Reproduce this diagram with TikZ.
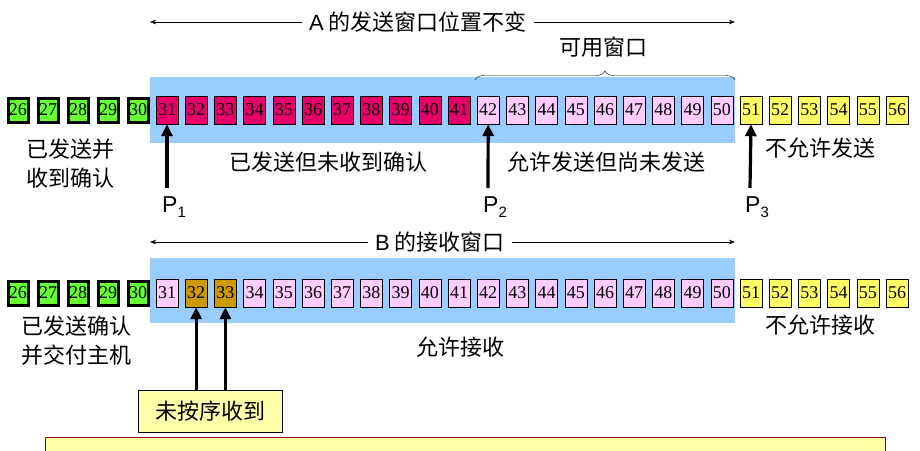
\documentclass[tikz,border=0pt]{standalone}
\usepackage{fontspec}
\setmainfont{Liberation Serif}
\newfontfamily\cjk{Noto Sans CJK SC}
\newfontfamily\lsans{Liberation Sans}
\usetikzlibrary{decorations.pathreplacing,arrows.meta}
\definecolor{cgreen}{HTML}{66FF33}
\definecolor{cred}{HTML}{E8006A}
\definecolor{cpink}{HTML}{FFCCFF}
\definecolor{cyel}{HTML}{FFFF66}
\definecolor{cbrown}{HTML}{CC9900}
\definecolor{cblue}{HTML}{99CCFF}
\definecolor{lyel}{HTML}{FFFFAA}
\tikzset{
 num/.style={draw=black,minimum width=22pt,minimum height=28pt,inner sep=0pt,font=\fontsize{18}{18}\selectfont},
 grn/.style={num,fill=cgreen,line width=3pt,minimum width=20pt,minimum height=24pt},
 lab/.style={font=\cjk\fontsize{22}{29}\selectfont,align=center,inner sep=0pt},
 plab/.style={font=\lsans\fontsize{23}{23}\selectfont},
 bigarr/.style={line width=3.2pt,-{Triangle[length=12pt,width=11pt]}},
 warr/.style={{Stealth[length=6pt]}-{Stealth[length=6pt]},line width=0.5pt}
}
\begin{document}
\begin{tikzpicture}[x=1pt,y=-1pt]
\useasboundingbox (0,0) rectangle (920,450);
\fill[cblue] (150,77) rectangle (735,143);
\fill[cblue] (150,258) rectangle (735,323);
% row 1
\foreach \i in {26,...,30}{\node[grn] (a\i) at ({18+30*(\i-26)},110) {\i};}
\foreach \i in {31,...,41}{\node[num,fill=cred] (a\i) at ({167+29.2*(\i-31)},110) {\i};}
\foreach \i in {42,...,50}{\node[num,fill=cpink] (a\i) at ({167+29.2*(\i-31)},110) {\i};}
\foreach \i in {51,...,56}{\node[num,fill=cyel] (a\i) at ({167+29.2*(\i-31)},110) {\i};}
% row 2
\foreach \i in {26,...,30}{\node[grn] (b\i) at ({18+30*(\i-26)},293) {\i};}
\foreach \i in {31,34,35,36,37,38,39,40,41,42,43,44,45,46,47,48,49,50}{\node[num,fill=cpink] (b\i) at ({167+29.2*(\i-31)},293) {\i};}
\foreach \i in {32,33}{\node[num,fill=cbrown] (b\i) at ({167+29.2*(\i-31)},293) {\i};}
\foreach \i in {51,...,56}{\node[num,fill=cyel] (b\i) at ({167+29.2*(\i-31)},293) {\i};}
% top arrow
\draw[warr] (150,22) -- (735,22);
\node[lab,fill=white,inner xsep=7pt] (ta) at (418,22) {{\lsans A} 的发送窗口位置不变};
\draw[decorate,decoration={brace,amplitude=9pt}] (475,80) -- (735,80);
\node[lab] (kw) at (603,47) {可用窗口};
% labels row1
\node[lab] (l1) at (70,164) {已发送并\\收到确认};
\node[lab] (l2) at (328,162) {已发送但未收到确认};
\node[lab] (l3) at (606,162) {允许发送但尚未发送};
\node[lab] (l4) at (820,148) {不允许发送};
\node[plab] (p1) at (174,207) {P\raisebox{-5pt}{\fontsize{15}{15}\selectfont 1}};
\node[plab] (p2) at (495,207) {P\raisebox{-5pt}{\fontsize{15}{15}\selectfont 2}};
\node[plab] (p3) at (757,207) {P\raisebox{-5pt}{\fontsize{15}{15}\selectfont 3}};
\draw[bigarr] (167,188) -- (a31.south);
\draw[bigarr] (488,188) -- (a42.south);
\draw[bigarr] (750,188) -- (a51.south);
% row 2 labels
\draw[warr] (150,242) -- (735,242);
\node[lab,fill=white,inner xsep=7pt] (ba) at (440,242) {{\lsans B} 的接收窗口};
\node[lab] (m1) at (76,341) {已发送确认\\并交付主机};
\node[lab] (m2) at (460,347) {允许接收};
\node[lab] (m3) at (820,325) {不允许接收};
\node[lab,draw=black,fill=lyel,minimum width=144pt,minimum height=42pt] (wx) at (210,411) {未按序收到};
\draw[bigarr] (b32.south|-wx.north) -- (b32.south);
\draw[bigarr] (b33.south|-wx.north) -- (b33.south);
\draw[draw=purple!70!black,fill=lyel,line width=1pt] (45,437) rectangle (885,455);
\end{tikzpicture}
\end{document}
